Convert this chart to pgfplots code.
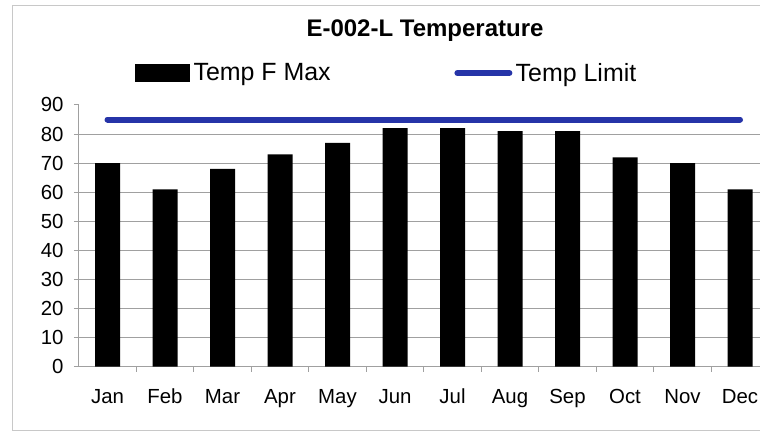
\documentclass[border=0pt]{standalone}
\usepackage{pgfplots}
\pgfplotsset{compat=1.18}
\usepackage{fontspec}
\setmainfont{Liberation Sans}
\definecolor{limitblue}{RGB}{38,52,168}
\definecolor{gridgray}{RGB}{160,160,160}
\definecolor{bordergray}{RGB}{200,200,200}
\begin{document}
\begin{tikzpicture}[x=0.75pt,y=-0.75pt]
\useasboundingbox (0,0) rectangle (760,437);
\coordinate (AxSW) at (78.75,366.7);
\begin{scope}
\clip (0,0) rectangle (760,437);
\fill[white] (0,0) rectangle (760,437);
\draw[bordergray, line width=0.6pt] (12,5) rectangle (800,430);
\node[font=\fontsize{18}{21}\selectfont\bfseries, anchor=base] at (425,36.7) {E-002-L Temperature};
\begin{axis}[
  at={(AxSW)}, anchor=south west,
  scale only axis, width=517.5pt, height=196.3pt,
  xmin=-0.5, xmax=11.5, ymin=0, ymax=90,
  axis x line*=bottom, axis y line*=left,
  axis line style={gridgray, line width=0.75pt, -},
  xtick={0,...,11},
  xticklabels={Jan,Feb,Mar,Apr,May,Jun,Jul,Aug,Sep,Oct,Nov,Dec},
  minor x tick num=1,
  major x tick style={draw=none},
  minor x tick style={gridgray, line width=0.75pt},
  ytick={0,10,...,80},
  extra y ticks={90},
  extra y tick style={grid=none},
  ymajorgrids,
  grid style={gridgray, line width=0.75pt},
  ytick style={gridgray, line width=0.75pt},
  tick align=outside,
  major tick length=3.75pt,
  minor tick length=3.75pt,
  ticklabel style={font=\fontsize{15.3}{18}\selectfont},
  /pgf/number format/assume math mode=true,
  yticklabel style={anchor=east, inner sep=0pt, xshift=-7.5pt},
  xticklabel style={anchor=base, inner sep=0pt, yshift=-24pt},
  legend columns=2,
  legend style={at={(0.0815,1.1223)}, anchor=west, draw=none, fill=none, inner sep=0pt,
    font=\fontsize{18.7}{22}\selectfont,
    nodes={inner sep=2.5pt},
    /tikz/every even column/.append style={column sep=90.25pt}},
]
\addplot[ybar, bar width=18.75pt, fill=black, draw=none,
  legend image code/.code={\fill[black] (0pt,-6.75pt) rectangle (41.25pt,6.75pt);}]
  coordinates {(0,70) (1,61) (2,68) (3,73) (4,77) (5,82) (6,82) (7,81) (8,81) (9,72) (10,70) (11,61)};
\addlegendentry{Temp F Max}
\addplot[limitblue, line width=4.5pt, line cap=round,
  legend image code/.code={\draw[limitblue, line width=4.5pt, line cap=round] (2.25pt,0pt) -- (41.25pt,0pt);}]
  coordinates {(0,85) (1,85) (2,85) (3,85) (4,85) (5,85) (6,85) (7,85) (8,85) (9,85) (10,85) (11,85)};
\addlegendentry{Temp Limit}
\end{axis}
\end{scope}
\end{tikzpicture}
\end{document}
